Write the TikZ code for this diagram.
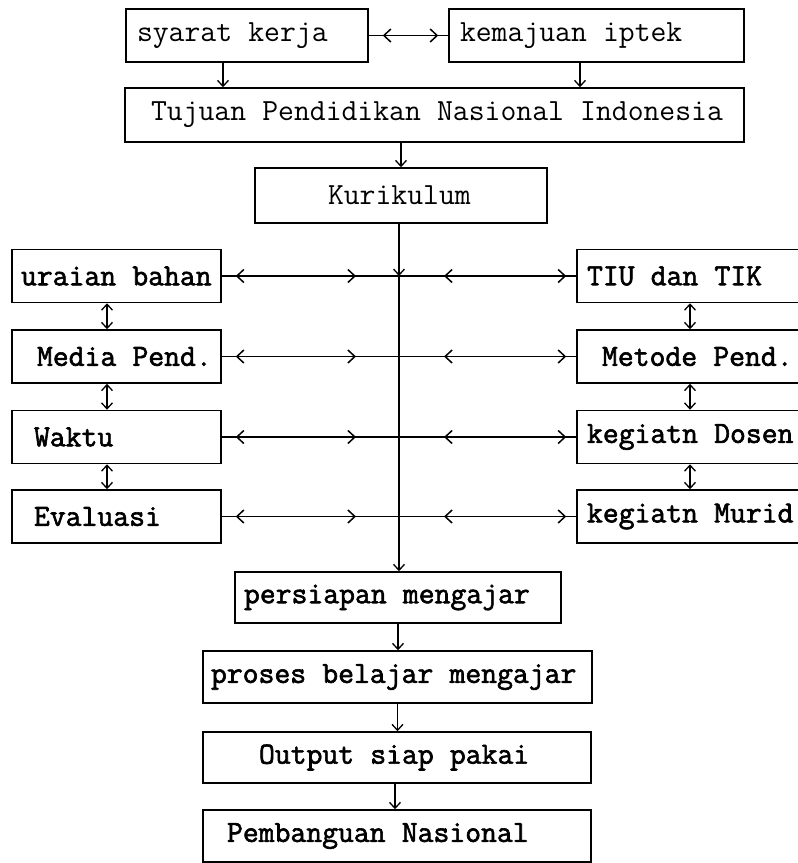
\documentclass[tikz,border=0pt]{standalone}
\usepackage{fontspec}
\newfontfamily\dotfont{Latin Modern Mono}
\newfontfamily\dotbold[FakeBold=2]{Latin Modern Mono}
\newcommand\ind[1]{\spaceskip=0.525em\relax\xspaceskip=0.525em\relax\hspace*{#1}}
\usetikzlibrary{arrows.meta}
\begin{document}
\begin{tikzpicture}[x=1pt,y=-1pt,
  box/.style={draw, line width=1.5pt, rectangle, inner sep=0pt, minimum height=53pt,
    text width=#1, align=left, font=\dotfont\fontsize{30.8}{33}\selectfont},
  bbox/.style={box=#1, font=\dotbold\fontsize{30.8}{33}\selectfont},
  conn/.style={line width=1.4pt},
  vtip/.style={conn, -{Straight Barb[length=6pt,width=11pt,line width=1.3pt]}},
  dtip/.style={conn, {Straight Barb[length=6pt,width=11pt,line width=1.3pt]}-{Straight Barb[length=6pt,width=11pt,line width=1.3pt]}},
  htip/.style={conn, {Straight Barb[length=7pt,width=13pt,line width=1.5pt]}-{Straight Barb[length=7pt,width=13pt,line width=1.5pt]}}
]
\useasboundingbox (0,0) rectangle (798,863);
\clip (0,0) rectangle (798,863);

% top
\node[box=242pt] (syarat) at (247,35.5) {\ind{11pt}syarat kerja};
\node[box=295pt] (kemaj) at (596.5,35.5) {\ind{11pt}kemajuan iptek};
\node[box=619pt, minimum height=54pt] (tujuan) at (434.5,115) {\ind{26pt}Tujuan Pendidikan Nasional Indonesia};
\node[box=292pt, minimum height=55pt] (kur) at (401,195.5) {\ind{73pt}Kurikulum};

% left column
\node[bbox=209pt] (ura) at (116.5,276) {\ind{9pt}uraian bahan};
\node[bbox=209pt] (media) at (116.5,356.5) {\ind{25pt}Media Pend.};
\node[bbox=209pt] (waktu) at (116.5,437) {\ind{22pt}Waktu};
\node[bbox=209pt] (eval) at (116.5,516.5) {\ind{22pt}Evaluasi};

% right column
\node[bbox=250pt] (tiu) at (702,276) {\ind{10pt}TIU dan TIK};
\node[bbox=250pt] (metode) at (702,356.5) {\ind{25pt}Metode Pend.};
\node[bbox=250pt] (dosen) at (702,437) {\ind{10pt}kegiatn Dosen};
\node[bbox=250pt] (murid) at (702,516.5) {\ind{10pt}kegiatn Murid};

% central chain
\node[bbox=326pt, minimum height=51pt] (pers) at (398,597.5) {\ind{9pt}persiapan mengajar};
\node[bbox=389pt, minimum height=52pt] (proses) at (397.5,677) {\ind{8pt}proses belajar mengajar};
\node[bbox=388pt, minimum height=51pt] (output) at (397,757.5) {\ind{56pt}Output siap pakai};
\node[bbox=388pt, minimum height=52pt] (pemb) at (397,836) {\ind{24pt}Pembanguan Nasional};

% junctions on the central line
\coordinate (j1) at (399,276);
\coordinate (j2) at (399,356.5);
\coordinate (j3) at (399,437);
\coordinate (j4) at (399,516.5);

% top connectors
\draw[conn] (syarat.east) -- (kemaj.west);
\draw[htip, shorten <=14pt, shorten >=10pt] (syarat.east) -- (kemaj.west);
\draw[vtip] ([xshift=-24pt]syarat.south) -- ([xshift=-24pt]syarat.south |- tujuan.north);
\draw[vtip] ([xshift=-16.5pt]kemaj.south) -- ([xshift=-16.5pt]kemaj.south |- tujuan.north);
\draw[vtip] (tujuan.south -| kur.north) -- (kur.north);

% central line
\draw[vtip] (kur.south -| j1) -- (j1);
\draw[vtip] (j1) -- (j1 |- pers.north);

% horizontal links
\foreach \L/\R/\J in {ura/tiu/j1, media/metode/j2, waktu/dosen/j3, eval/murid/j4}{
  \draw[conn] (\L.east) -- (\J);
  \draw[htip, shorten <=14pt, shorten >=43pt] (\L.east) -- (\J);
  \draw[conn] (\J) -- (\R.west);
  \draw[htip, shorten <=45pt, shorten >=10pt] (\J) -- (\R.west);
}

% vertical double arrows
\foreach \A/\B in {ura/media, media/waktu, waktu/eval}{
  \draw[dtip] ([xshift=-9.5pt]\A.south) -- ([xshift=-9.5pt]\A.south |- \B.north);
}
\foreach \A/\B in {tiu/metode, metode/dosen, dosen/murid}{
  \draw[dtip] ([xshift=-12pt]\A.south) -- ([xshift=-12pt]\A.south |- \B.north);
}

% lower chain
\draw[vtip] (pers.south) -- (pers.south |- proses.north);
\draw[vtip] (proses.south) -- (proses.south |- output.north);
\draw[vtip] ([xshift=-2pt]output.south) -- ([xshift=-2pt]output.south |- pemb.north);
\end{tikzpicture}
\end{document}
